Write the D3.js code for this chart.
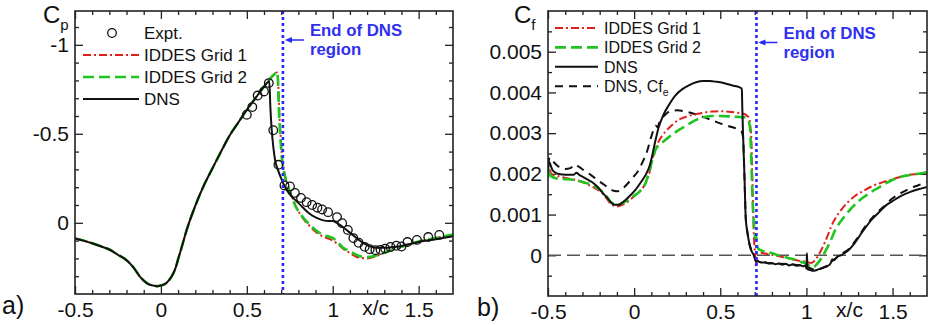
<!DOCTYPE html>
<html>
<head>
<meta charset="utf-8">
<script src="https://cdn.jsdelivr.net/npm/d3@7"></script>
<style>
  html, body { margin: 0; padding: 0; background: #fff; }
  svg { display: block; font-family: "Liberation Sans", Arial, Helvetica, sans-serif; }
</style>
</head>
<body>
<svg id="chart" width="930" height="325"></svg>
<script>
// ---------- shared axis data ----------
const xTicks = [-0.5, 0, 0.5, 1, 1.5];
const xTickLabels = ["-0.5", "0", "0.5", "1", "1.5"];
const dnsEndX = 0.71;

// ---------- panel a): pressure coefficient ----------
const cpTicks = [-1, -0.5, 0];
const cpTickLabels = ["-1", "-0.5", "0"];

const cpExpt = [[0.5,-0.607],[0.532,-0.65],[0.563,-0.715],[0.6,-0.738],[0.628,-0.785],[0.654,-0.52],[0.684,-0.326],[0.719,-0.21],[0.751,-0.204],[0.78,-0.168],[0.815,-0.14],[0.848,-0.116],[0.88,-0.1],[0.911,-0.085],[0.938,-0.075],[0.973,-0.06],[1.025,-0.032],[1.055,0.002],[1.088,0.04],[1.12,0.086],[1.151,0.112],[1.186,0.135],[1.215,0.148],[1.248,0.154],[1.278,0.152],[1.305,0.145],[1.336,0.136],[1.37,0.129],[1.4,0.133],[1.435,0.108],[1.49,0.096],[1.556,0.08],[1.62,0.068]];

const cpGrid1 = [[-0.5,0.088],[-0.45,0.1],[-0.4,0.115],[-0.35,0.132],[-0.3,0.15],[-0.25,0.18],[-0.2,0.21],[-0.16,0.25],[-0.12,0.305],[-0.08,0.34],[-0.04,0.354],[-0.02,0.356],[0,0.352],[0.03,0.34],[0.06,0.305],[0.085,0.255],[0.1,0.205],[0.12,0.14],[0.15,0.04],[0.2,-0.095],[0.25,-0.21],[0.3,-0.306],[0.35,-0.4],[0.4,-0.49],[0.45,-0.563],[0.5,-0.635],[0.55,-0.7],[0.6,-0.765],[0.64,-0.815],[0.66,-0.835],[0.675,-0.845],[0.68,-0.83],[0.685,-0.73],[0.69,-0.6],[0.695,-0.52],[0.7,-0.44],[0.705,-0.37],[0.714,-0.31],[0.724,-0.26],[0.742,-0.2],[0.763,-0.148],[0.78,-0.105],[0.82,-0.035],[0.86,0.012],[0.9,0.05],[0.95,0.08],[0.98,0.09],[1.0,0.1],[1.03,0.12],[1.06,0.145],[1.1,0.17],[1.15,0.195],[1.2,0.2],[1.25,0.188],[1.3,0.168],[1.4,0.135],[1.5,0.107],[1.6,0.086],[1.7,0.067]];

const cpGrid2 = [[-0.5,0.088],[-0.45,0.1],[-0.4,0.115],[-0.35,0.132],[-0.3,0.15],[-0.25,0.18],[-0.2,0.21],[-0.16,0.25],[-0.12,0.305],[-0.08,0.34],[-0.04,0.354],[-0.02,0.356],[0,0.352],[0.03,0.34],[0.06,0.305],[0.085,0.255],[0.1,0.205],[0.12,0.14],[0.15,0.04],[0.2,-0.095],[0.25,-0.21],[0.3,-0.306],[0.35,-0.4],[0.4,-0.49],[0.45,-0.563],[0.5,-0.635],[0.55,-0.7],[0.6,-0.765],[0.64,-0.815],[0.66,-0.835],[0.675,-0.848],[0.68,-0.82],[0.684,-0.72],[0.688,-0.6],[0.693,-0.52],[0.698,-0.44],[0.703,-0.37],[0.712,-0.31],[0.722,-0.26],[0.74,-0.2],[0.761,-0.148],[0.78,-0.1],[0.82,-0.04],[0.86,0.005],[0.9,0.04],[0.95,0.07],[0.98,0.078],[1.0,0.085],[1.03,0.11],[1.06,0.14],[1.1,0.16],[1.15,0.185],[1.2,0.193],[1.25,0.185],[1.3,0.168],[1.4,0.135],[1.5,0.105],[1.6,0.085],[1.7,0.066]];

const cpDns = [[-0.5,0.088],[-0.45,0.1],[-0.4,0.115],[-0.35,0.132],[-0.3,0.15],[-0.25,0.18],[-0.2,0.21],[-0.16,0.25],[-0.12,0.305],[-0.08,0.34],[-0.04,0.354],[-0.02,0.356],[0,0.352],[0.03,0.34],[0.06,0.305],[0.085,0.255],[0.1,0.205],[0.12,0.14],[0.15,0.04],[0.2,-0.095],[0.25,-0.21],[0.3,-0.306],[0.35,-0.4],[0.4,-0.49],[0.45,-0.563],[0.5,-0.635],[0.55,-0.7],[0.6,-0.765],[0.631,-0.795],[0.637,-0.65],[0.645,-0.52],[0.655,-0.42],[0.665,-0.35],[0.68,-0.3],[0.7,-0.25],[0.72,-0.205],[0.75,-0.16],[0.78,-0.13],[0.82,-0.092],[0.86,-0.055],[0.9,-0.03],[0.94,-0.015],[0.98,-0.01],[1.0,-0.01],[1.03,0.005],[1.06,0.025],[1.1,0.055],[1.15,0.095],[1.2,0.125],[1.25,0.14],[1.3,0.14],[1.4,0.13],[1.5,0.108],[1.6,0.092],[1.7,0.076]];

// ---------- panel b): skin friction coefficient (units of 1e-3) ----------
const cfTicks = [0, 1, 2, 3, 4, 5];
const cfTickLabels = ["0", "0.001", "0.002", "0.003", "0.004", "0.005"];

const cfGrid1 = [[-0.5,1.95],[-0.497,2.22],[-0.49,2.1],[-0.48,2.0],[-0.46,1.96],[-0.44,1.94],[-0.4,1.9],[-0.35,1.86],[-0.3,1.8],[-0.265,1.73],[-0.22,1.63],[-0.187,1.53],[-0.16,1.4],[-0.139,1.28],[-0.12,1.22],[-0.1,1.2],[-0.08,1.22],[-0.051,1.28],[0,1.45],[0.027,1.55],[0.06,1.72],[0.076,1.86],[0.09,2.05],[0.105,2.35],[0.12,2.55],[0.134,2.72],[0.16,2.92],[0.183,3.04],[0.22,3.2],[0.26,3.33],[0.3,3.4],[0.35,3.46],[0.4,3.5],[0.45,3.53],[0.5,3.54],[0.56,3.52],[0.6,3.5],[0.64,3.47],[0.655,3.43],[0.668,3.37],[0.675,3.15],[0.68,2.9],[0.685,2.1],[0.69,1.3],[0.694,0.6],[0.698,0.25],[0.703,-0.05],[0.707,-0.3],[0.711,-0.05],[0.716,0.05],[0.736,0.06],[0.78,0.03],[0.833,-0.02],[0.88,-0.06],[0.95,-0.13],[1.0,-0.16],[1.028,-0.19],[1.05,-0.12],[1.067,-0.02],[1.085,0.12],[1.105,0.3],[1.125,0.5],[1.144,0.71],[1.17,0.92],[1.203,1.12],[1.24,1.3],[1.28,1.45],[1.33,1.58],[1.378,1.69],[1.44,1.79],[1.494,1.86],[1.55,1.93],[1.6,1.98],[1.65,2.0],[1.7,2.03]];

const cfGrid2 = [[-0.5,1.88],[-0.497,2.15],[-0.49,2.02],[-0.48,1.94],[-0.46,1.9],[-0.44,1.88],[-0.4,1.87],[-0.35,1.85],[-0.3,1.8],[-0.265,1.76],[-0.22,1.67],[-0.187,1.57],[-0.16,1.45],[-0.139,1.32],[-0.12,1.27],[-0.1,1.25],[-0.08,1.26],[-0.051,1.32],[0,1.46],[0.03,1.56],[0.066,1.77],[0.08,1.95],[0.095,2.18],[0.11,2.4],[0.124,2.59],[0.15,2.72],[0.183,2.84],[0.22,2.96],[0.26,3.08],[0.3,3.18],[0.357,3.32],[0.416,3.4],[0.45,3.42],[0.5,3.42],[0.56,3.41],[0.6,3.4],[0.64,3.39],[0.655,3.36],[0.668,3.25],[0.674,3.05],[0.679,2.51],[0.684,1.8],[0.688,1.28],[0.693,0.9],[0.698,0.63],[0.704,0.4],[0.709,0.45],[0.716,0.2],[0.73,0.13],[0.755,0.1],[0.8,0.05],[0.852,-0.02],[0.9,-0.07],[0.95,-0.13],[0.98,-0.18],[1.0,-0.2],[1.018,-0.27],[1.038,-0.3],[1.06,-0.22],[1.086,-0.08],[1.105,0.06],[1.125,0.22],[1.145,0.4],[1.164,0.59],[1.19,0.78],[1.222,0.96],[1.26,1.15],[1.3,1.32],[1.35,1.48],[1.397,1.61],[1.45,1.74],[1.514,1.88],[1.56,1.94],[1.611,1.98],[1.66,2.01],[1.7,2.04]];

const cfDns = [[-0.5,2.05],[-0.495,2.3],[-0.488,2.25],[-0.475,2.1],[-0.46,2.04],[-0.43,1.99],[-0.4,1.98],[-0.37,1.98],[-0.35,1.98],[-0.335,2.03],[-0.32,1.98],[-0.3,1.93],[-0.27,1.86],[-0.245,1.8],[-0.21,1.67],[-0.18,1.52],[-0.15,1.38],[-0.13,1.28],[-0.11,1.24],[-0.09,1.24],[-0.07,1.29],[-0.05,1.36],[-0.02,1.48],[0.01,1.62],[0.04,1.8],[0.07,2.0],[0.09,2.2],[0.105,2.45],[0.12,2.75],[0.143,3.15],[0.17,3.45],[0.2,3.68],[0.24,3.93],[0.28,4.08],[0.32,4.18],[0.36,4.25],[0.4,4.28],[0.44,4.28],[0.48,4.26],[0.53,4.22],[0.57,4.17],[0.61,4.13],[0.625,4.09],[0.628,3.6],[0.632,3.0],[0.64,2.0],[0.648,0.9],[0.658,0.55],[0.668,0.3],[0.68,0.12],[0.697,-0.02],[0.707,-0.15],[0.72,-0.15],[0.74,-0.18],[0.76,-0.17],[0.78,-0.2],[0.8,-0.19],[0.82,-0.22],[0.84,-0.2],[0.86,-0.23],[0.88,-0.21],[0.9,-0.25],[0.92,-0.22],[0.94,-0.26],[0.96,-0.24],[0.98,-0.27],[0.995,-0.25],[1.0,-0.33],[1.003,0.05],[1.006,-0.3],[1.01,-0.35],[1.02,-0.36],[1.04,-0.38],[1.06,-0.36],[1.08,-0.33],[1.1,-0.3],[1.12,-0.27],[1.14,-0.2],[1.15,-0.1],[1.16,-0.12],[1.18,-0.03],[1.2,0.0],[1.22,0.05],[1.25,0.15],[1.28,0.3],[1.3,0.42],[1.32,0.55],[1.35,0.72],[1.38,0.88],[1.42,1.05],[1.46,1.22],[1.5,1.33],[1.55,1.46],[1.6,1.55],[1.65,1.62],[1.7,1.68]];

const cfDnsE = [[-0.5,2.2],[-0.49,2.4],[-0.47,2.3],[-0.44,2.18],[-0.4,2.12],[-0.37,2.14],[-0.345,2.23],[-0.32,2.17],[-0.29,2.08],[-0.25,1.97],[-0.21,1.84],[-0.17,1.72],[-0.13,1.6],[-0.1,1.57],[-0.07,1.63],[-0.04,1.75],[-0.01,1.9],[0.02,2.05],[0.05,2.3],[0.075,2.55],[0.095,2.85],[0.11,3.05],[0.125,3.18],[0.135,3.15],[0.15,3.3],[0.18,3.45],[0.21,3.54],[0.25,3.56],[0.3,3.53],[0.35,3.47],[0.4,3.4],[0.45,3.32],[0.5,3.24],[0.55,3.17],[0.6,3.1],[0.622,3.05],[0.632,2.9],[0.64,2.0],[0.648,0.9],[0.658,0.55],[0.668,0.3],[0.68,0.12],[0.697,-0.02],[0.707,-0.12],[0.75,-0.17],[0.8,-0.2],[0.9,-0.22],[1.0,-0.28],[1.05,-0.35],[1.1,-0.3],[1.15,-0.14],[1.2,0.02],[1.25,0.17],[1.3,0.45],[1.35,0.76],[1.4,1.0],[1.45,1.2],[1.5,1.4],[1.55,1.53],[1.6,1.64],[1.65,1.72],[1.7,1.8]];

// ---------- styles ----------
const RED = "#e0201c", GREEN = "#1fc41f", BLACK = "#111", BLUE = "#2626ff", FRAME = "#222";
const styles = {
  grid1: { stroke: RED, width: 2, dash: "8,3,2,3" },
  grid2: { stroke: GREEN, width: 2.6, dash: "11,5" },
  dns:   { stroke: BLACK, width: 2, dash: null },
  dnsE:  { stroke: BLACK, width: 2, dash: "8,6" }
};

const svg = d3.select("#chart");
svg.append("rect").attr("width", 930).attr("height", 325).attr("fill", "#fff");

function drawPanel(cfg) {
  const g = svg.append("g");
  const x = d3.scaleLinear().domain([-0.5, 1.7]).range([cfg.left, cfg.right]);
  const y = d3.scaleLinear().domain(cfg.yDomain).range([cfg.bottom, cfg.top]);

  const clipId = "clip-" + cfg.id;
  svg.append("clipPath").attr("id", clipId).append("rect")
    .attr("x", cfg.left).attr("y", cfg.top)
    .attr("width", cfg.right - cfg.left).attr("height", cfg.bottom - cfg.top);

  // axes with inward ticks on all four sides
  const styleAxis = sel => {
    sel.select(".domain").remove();
    sel.selectAll(".tick line").attr("stroke", FRAME).attr("stroke-width", 1.3);
    sel.selectAll(".tick text").attr("fill", "#111").attr("font-size", 21)
      .attr("font-family", "'Liberation Sans', Arial, sans-serif");
  };
  const xMinor = d3.range(-0.4, 1.7, 0.1).filter(v => Math.abs(v * 2 - Math.round(v * 2)) > 1e-6);
  g.append("g").attr("transform", `translate(0,${cfg.bottom})`)
    .call(d3.axisBottom(x).tickValues(xMinor).tickSize(-4).tickFormat("")).call(styleAxis);
  g.append("g").attr("transform", `translate(0,${cfg.top})`)
    .call(d3.axisTop(x).tickValues(xMinor).tickSize(-4).tickFormat("")).call(styleAxis);
  g.append("g").attr("transform", `translate(0,${cfg.bottom})`)
    .call(d3.axisBottom(x).tickValues(xTicks).tickSize(-8).tickPadding(8)
      .tickFormat((d, i) => xTickLabels[i])).call(styleAxis);
  g.append("g").attr("transform", `translate(0,${cfg.top})`)
    .call(d3.axisTop(x).tickValues(xTicks).tickSize(-8).tickFormat("")).call(styleAxis);

  g.append("g").attr("transform", `translate(${cfg.left},0)`)
    .call(d3.axisLeft(y).tickValues(cfg.yMinor).tickSize(-4).tickFormat("")).call(styleAxis);
  g.append("g").attr("transform", `translate(${cfg.right},0)`)
    .call(d3.axisRight(y).tickValues(cfg.yMinor).tickSize(-4).tickFormat("")).call(styleAxis);
  g.append("g").attr("transform", `translate(${cfg.left},0)`)
    .call(d3.axisLeft(y).tickValues(cfg.yTicks).tickSize(-8).tickPadding(6)
      .tickFormat((d, i) => cfg.yTickLabels[i])).call(styleAxis);
  g.append("g").attr("transform", `translate(${cfg.right},0)`)
    .call(d3.axisRight(y).tickValues(cfg.yTicks).tickSize(-8).tickFormat("")).call(styleAxis);

  const plot = g.append("g").attr("clip-path", `url(#${clipId})`);

  if (cfg.zeroLine) {
    plot.append("line")
      .attr("x1", cfg.left).attr("x2", cfg.right)
      .attr("y1", y(0)).attr("y2", y(0))
      .attr("stroke", "#555").attr("stroke-width", 1.5).attr("stroke-dasharray", "13,6");
  }

  const line = d3.line().x(d => x(d[0])).y(d => y(d[1])).curve(d3.curveMonotoneX);
  cfg.series.forEach(s => {
    const st = styles[s.style];
    plot.append("path").datum(s.data)
      .attr("d", line).attr("fill", "none")
      .attr("stroke", st.stroke).attr("stroke-width", st.width)
      .attr("stroke-dasharray", st.dash).attr("stroke-linejoin", "round");
  });

  if (cfg.expt) {
    plot.selectAll("circle.expt").data(cfg.expt).join("circle")
      .attr("class", "expt")
      .attr("cx", d => x(d[0])).attr("cy", d => y(d[1])).attr("r", 4.3)
      .attr("fill", "none").attr("stroke", BLACK).attr("stroke-width", 1.3);
  }

  // end of DNS region marker
  const xe = x(dnsEndX);
  g.append("line").attr("x1", xe).attr("x2", xe).attr("y1", cfg.top).attr("y2", cfg.bottom)
    .attr("stroke", BLUE).attr("stroke-width", 2.6).attr("stroke-dasharray", "3,3");
  const ay = cfg.arrowY;
  g.append("line").attr("x1", xe + 4).attr("x2", xe + 21).attr("y1", ay).attr("y2", ay)
    .attr("stroke", BLUE).attr("stroke-width", 1.5);
  g.append("path")
    .attr("d", `M${xe + 2},${ay} L${xe + 9},${ay - 3} L${xe + 9},${ay + 3} Z`)
    .attr("fill", BLUE);
  g.append("text").attr("fill", "#3030ee").attr("font-weight", "bold").attr("font-size", 16.8)
    .attr("x", xe + 27).attr("y", ay - 4).text("End of DNS");
  g.append("text").attr("fill", "#3030ee").attr("font-weight", "bold").attr("font-size", 16.8)
    .attr("x", xe + 27).attr("y", ay + 15).text("region");

  // frame
  g.append("rect").attr("x", cfg.left).attr("y", cfg.top)
    .attr("width", cfg.right - cfg.left).attr("height", cfg.bottom - cfg.top)
    .attr("fill", "none").attr("stroke", FRAME).attr("stroke-width", 1.6);

  // axis titles and panel tag
  g.append("text").attr("x", x(1.25)).attr("y", cfg.bottom + 21).attr("text-anchor", "middle")
    .attr("font-size", 21).attr("fill", "#111").text("x/c");
  g.append("text").attr("x", cfg.tagX).attr("y", cfg.bottom + 20).attr("font-size", 25)
    .attr("fill", "#111").text(cfg.tag);
  const yl = g.append("text").attr("x", cfg.yLabelX).attr("y", cfg.top + 12).attr("fill", "#111");
  yl.append("tspan").attr("font-size", 24).text("C");
  yl.append("tspan").attr("font-size", 15).attr("dy", 7).text(cfg.ySub);

  return { x, y, g };
}

// ---------- panel a ----------
const pa = drawPanel({
  id: "cp", left: 75, right: 453, top: 11, bottom: 294,
  yDomain: [0.4, -1.19], yTicks: cpTicks, yTickLabels: cpTickLabels,
  yMinor: d3.range(-1.1, 0.35, 0.1).filter(v => Math.abs(v * 2 - Math.round(v * 2)) > 1e-6),
  series: [{ data: cpGrid1, style: "grid1" }, { data: cpGrid2, style: "grid2" }, { data: cpDns, style: "dns" }],
  expt: cpExpt, arrowY: 40, tag: "a)", tagX: 2, yLabelX: 43, ySub: "p"
});

// legend a
{
  const lg = pa.g.append("g");
  const rows = [
    { label: "Expt.", style: null },
    { label: "IDDES Grid 1", style: "grid1" },
    { label: "IDDES Grid 2", style: "grid2" },
    { label: "DNS", style: "dns" }
  ];
  rows.forEach((r, i) => {
    const yy = 33 + i * 22;
    if (r.style) {
      const st = styles[r.style];
      lg.append("line").attr("x1", 83).attr("x2", 139).attr("y1", yy).attr("y2", yy)
        .attr("stroke", st.stroke).attr("stroke-width", st.width).attr("stroke-dasharray", st.dash);
    } else {
      lg.append("circle").attr("cx", 112).attr("cy", yy).attr("r", 4.3)
        .attr("fill", "none").attr("stroke", BLACK).attr("stroke-width", 1.3);
    }
    lg.append("text").attr("x", 144).attr("y", yy + 6).attr("font-size", 17).attr("fill", "#111").text(r.label);
  });
}

// ---------- panel b ----------
const pb = drawPanel({
  id: "cf", left: 548, right: 927, top: 11, bottom: 296,
  yDomain: [-1, 6], yTicks: cfTicks, yTickLabels: cfTickLabels,
  yMinor: [-0.5, 0.5, 1.5, 2.5, 3.5, 4.5, 5.5],
  zeroLine: true,
  series: [{ data: cfDnsE, style: "dnsE" }, { data: cfGrid1, style: "grid1" }, { data: cfGrid2, style: "grid2" }, { data: cfDns, style: "dns" }],
  arrowY: 42.5, tag: "b)", tagX: 477, yLabelX: 514, ySub: "f"
});

// legend b
{
  const lg = pb.g.append("g");
  const rows = [
    { label: "IDDES Grid 1", style: "grid1" },
    { label: "IDDES Grid 2", style: "grid2" },
    { label: "DNS", style: "dns" },
    { label: "DNS, Cf", sub: "e", style: "dnsE" }
  ];
  rows.forEach((r, i) => {
    const yy = 28 + i * 19.4;
    const st = styles[r.style];
    lg.append("line").attr("x1", 555).attr("x2", 598).attr("y1", yy).attr("y2", yy)
      .attr("stroke", st.stroke).attr("stroke-width", st.width).attr("stroke-dasharray", st.dash);
    const t = lg.append("text").attr("x", 604).attr("y", yy + 6).attr("font-size", 16).attr("fill", "#111");
    t.append("tspan").text(r.label);
    if (r.sub) t.append("tspan").attr("font-size", 10.5).attr("dy", 4).text(r.sub);
  });
}
</script>
</body>
</html>
